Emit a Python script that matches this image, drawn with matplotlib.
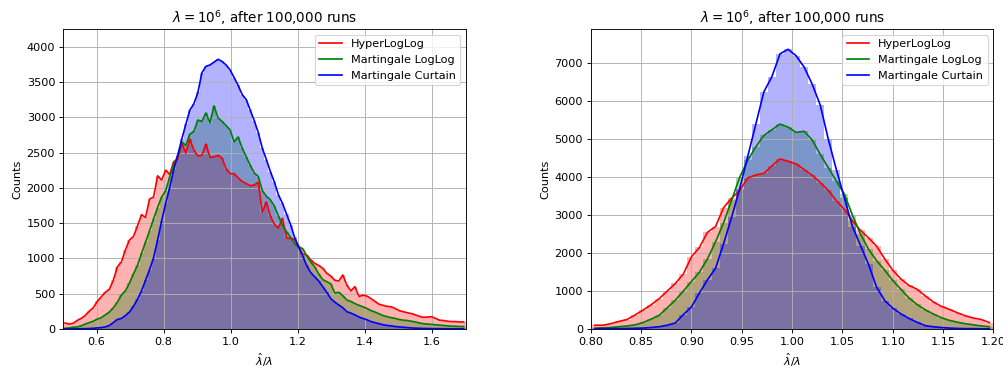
import numpy as np
import matplotlib
matplotlib.use('Agg')
import matplotlib.pyplot as plt

# bin ranges of the two histograms
left_range = (0.5, 1.7)
right_range = (0.8, 1.2)

labels = ['HyperLogLog', 'Martingale LogLog', 'Martingale Curtain']
colors = ['r', 'g', 'b']

# left panel: 100 bins on [0.5, 1.7]
hll_left = [85, 70, 80, 120, 150, 190, 250, 300, 390, 455,
            520, 560, 690, 880, 950, 1120, 1260, 1310, 1460, 1620,
            1580, 1840, 1870, 2170, 2110, 2250, 2190, 2370, 2400, 2630,
            2490, 2690, 2530, 2450, 2460, 2620, 2430, 2440, 2460, 2420,
            2270, 2200, 2200, 2140, 2090, 2060, 2030, 2040, 2080, 1650,
            1800, 1600, 1480, 1430, 1570, 1290, 1280, 1270, 1180, 1060,
            1050, 980, 930, 900, 860, 790, 750, 690, 680, 765,
            620, 540, 600, 460, 480, 465, 430, 390, 350, 335,
            320, 315, 290, 260, 245, 230, 220, 200, 180, 165,
            170, 175, 150, 125, 120, 110, 105, 105, 100, 100]

mll_left = [10, 15, 25, 30, 45, 70, 90, 110, 140, 160,
            200, 240, 300, 380, 480, 540, 650, 780, 900, 1070,
            1230, 1390, 1560, 1720, 1870, 1960, 2150, 2330, 2450, 2650,
            2600, 2760, 2800, 2960, 2940, 3060, 2920, 3160, 2990, 2940,
            2880, 2820, 2650, 2720, 2560, 2440, 2320, 2210, 2160, 1960,
            1880, 1830, 1740, 1600, 1470, 1380, 1300, 1210, 1160, 1140,
            1040, 950, 880, 780, 700, 670, 640, 510, 520, 470,
            410, 390, 360, 335, 315, 290, 260, 240, 215, 190,
            175, 160, 150, 135, 125, 120, 110, 100, 85, 75,
            70, 65, 60, 55, 50, 45, 40, 38, 35, 35]

mc_left = [2, 2, 3, 3, 4, 5, 7, 10, 15, 20,
           30, 50, 90, 135, 150, 190, 240, 320, 420, 540,
           690, 840, 1010, 1260, 1530, 1780, 2000, 2260, 2460, 2690,
           2900, 3100, 3190, 3350, 3630, 3720, 3740, 3780, 3820, 3790,
           3740, 3670, 3560, 3450, 3320, 3250, 3100, 2950, 2780, 2560,
           2400, 2230, 2080, 1900, 1780, 1630, 1480, 1300, 1160, 1040,
           900, 800, 740, 680, 600, 520, 430, 380, 340, 300,
           245, 225, 200, 170, 150, 130, 105, 90, 75, 60,
           50, 45, 35, 30, 25, 20, 15, 12, 10, 8,
           7, 6, 5, 5, 4, 4, 3, 3, 2, 2]

# right panel: 50 bins on [0.8, 1.2]
hll_right = [100, 100, 140, 200, 250, 370, 500, 640, 800, 1000,
             1200, 1450, 1900, 2150, 2550, 2700, 3200, 3450, 3650, 3980,
             4060, 4100, 4300, 4480, 4420, 4350, 4200, 4050, 3860, 3650,
             3380, 3150, 2850, 2600, 2400, 2180, 1850, 1550, 1320, 1150,
             1050, 880, 720, 600, 520, 430, 350, 290, 250, 170]

mll_right = [20, 30, 40, 60, 80, 110, 170, 260, 360, 560,
             760, 1000, 1250, 1500, 1850, 2300, 2800, 3400, 4000, 4450,
             4800, 5100, 5250, 5400, 5320, 5180, 5210, 4980, 4600, 4250,
             3900, 3550, 3000, 2500, 2100, 1800, 1550, 1280, 1050, 820,
             650, 510, 400, 300, 230, 180, 140, 110, 80, 60]

mc_right = [10, 10, 10, 10, 15, 20, 25, 40, 60, 100,
            160, 380, 580, 950, 1300, 1600, 2250, 2950, 3700, 4550,
            5400, 6250, 6650, 7250, 7370, 7200, 6900, 6450, 5900, 5000,
            4200, 3450, 2700, 2200, 1700, 1100, 750, 550, 400, 280,
            180, 90, 60, 40, 25, 15, 10, 10, 5, 5]


def draw(ax, rng, series, ylim):
    edges = np.linspace(rng[0], rng[1], len(series[0]) + 1)
    centers = (edges[:-1] + edges[1:]) / 2
    for vals, c, lab in zip(series, colors, labels):
        ax.stairs(vals, edges, fill=True, color=c, alpha=0.3)
        ax.plot(centers, vals, color=c, label=lab)
    ax.set_xlim(rng)
    ax.set_ylim(ylim)
    ax.set_title(r'$\lambda = 10^6$, after 100,000 runs')
    ax.set_xlabel(r'$\hat{\lambda}/\lambda$')
    ax.set_ylabel('Counts')
    ax.grid()
    ax.legend(loc='upper right')


DPI = 81
fig = plt.figure(figsize=(1003 / DPI, 370 / DPI), dpi=DPI)
ax1 = fig.add_axes([0.0628, 0.1108, 0.4015, 0.810])
ax2 = fig.add_axes([0.589, 0.1108, 0.4014, 0.810])

draw(ax1, left_range, [hll_left, mll_left, mc_left], (0, 4245))
ax1.set_xticks([0.6, 0.8, 1.0, 1.2, 1.4, 1.6])
ax1.set_yticks(range(0, 4001, 500))

draw(ax2, right_range, [hll_right, mll_right, mc_right], (0, 7897))
ax2.set_xticks(np.arange(0.8, 1.2001, 0.05))
ax2.xaxis.set_major_formatter(matplotlib.ticker.FormatStrFormatter('%.2f'))

fig.savefig('out.png', dpi=DPI)
